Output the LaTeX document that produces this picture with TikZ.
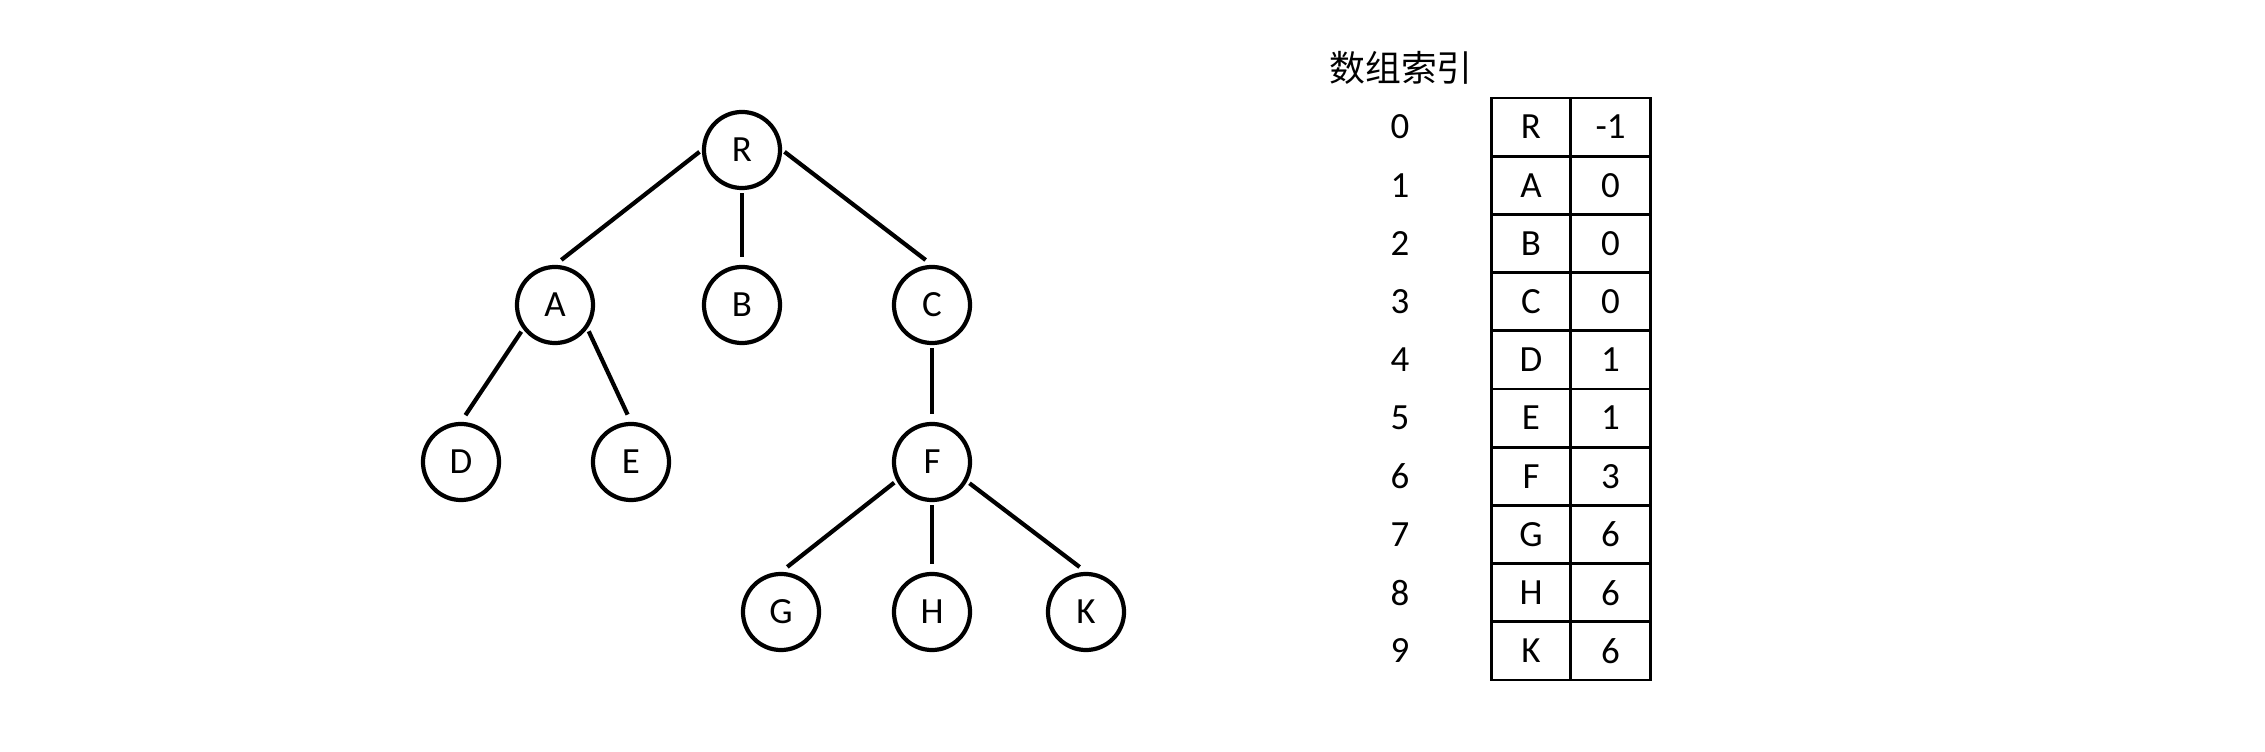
\documentclass[tikz,border=0pt]{standalone}
\usepackage{fontspec}
\setmainfont{Carlito}
\newfontfamily\cjkfont{Noto Sans CJK SC}
\usetikzlibrary{positioning}

\begin{document}
\begin{tikzpicture}[x=0.01cm, y=-0.01cm,
          nd/.style={draw, circle, line width=1.2pt, minimum size=0.76cm, inner sep=0pt, font=\fontsize{10.5}{12}\selectfont},
          ed/.style={line width=1.2pt, shorten <=0.03cm, shorten >=0.08cm},
          cell/.style={draw, line width=0.8pt, minimum width=0.795cm, minimum height=0.582cm, inner sep=0pt, outer sep=0pt, font=\fontsize{10.5}{12}\selectfont},
          idx/.style={font=\fontsize{10.5}{12}\selectfont}]
        \useasboundingbox (0,0) rectangle (2265,752);
        % tree
        \node[nd] (r) at (742,150) {R};
        \node[nd] (a) at (555,305) {A};
        \node[nd] (b) at (742,305) {B};
        \node[nd] (c) at (932,305) {C};
        \node[nd] (d) at (461,462) {D};
        \node[nd] (e) at (631,462) {E};
        \node[nd] (f) at (932,462) {F};
        \node[nd] (g) at (781,612) {G};
        \node[nd] (h) at (932,612) {H};
        \node[nd] (k) at (1086,612) {K};
        \draw[ed] (r.180)--(a.north);
        \draw[ed] (r.south)--(b.north);
        \draw[ed] (r.0)--(c.north);
        \draw[ed] (a.217)--(d.north);
        \draw[ed] (a.-36)--(e.north);
        \draw[ed] (c.south)--(f.north);
        \draw[ed] (f.-152)--(g.north);
        \draw[ed] (f.south)--(h.north);
        \draw[ed] (f.-29)--(k.north);
        % parent array
        \node[font=\cjkfont\fontsize{10.2}{12}\selectfont] (title) at (1401,68) {数组索引};
        \foreach \i/\key/\pa in {0/R/-1, 1/A/0, 2/B/0, 3/C/0, 4/D/1, 5/E/1, 6/F/3, 7/G/6, 8/H/6, 9/K/6} {
          \node[cell] (key\i) at (1531,127.1+58.2*\i) {\key};
          \node[cell, right=0pt of key\i] (pa\i) {\pa};
          \node[idx] (idx\i) at (1400,127.1+58.2*\i) {\i};
        }
      \end{tikzpicture}
\end{document}
